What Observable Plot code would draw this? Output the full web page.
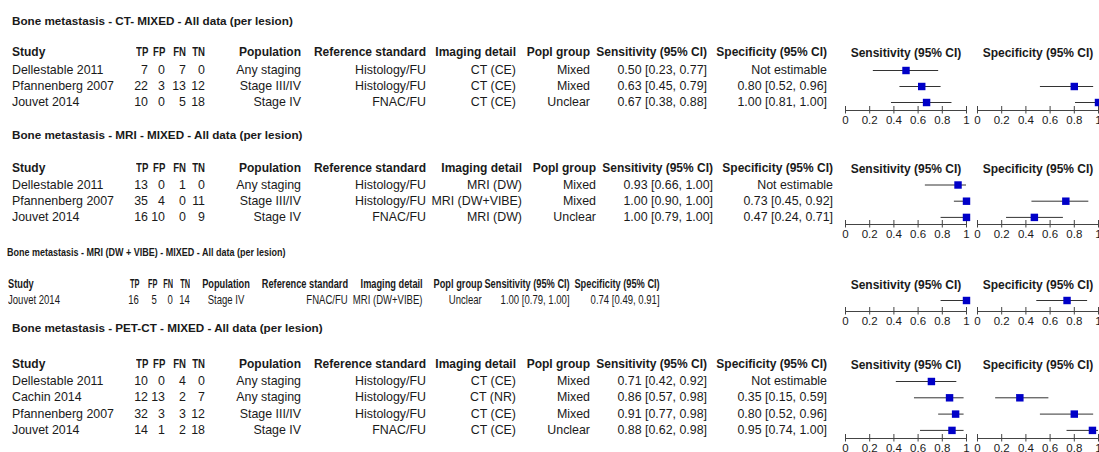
<!DOCTYPE html>
<html><head><meta charset="utf-8">
<script src="https://cdn.jsdelivr.net/npm/d3@7"></script>
<script src="https://cdn.jsdelivr.net/npm/@observablehq/plot@0.6"></script>
<style>
html,body{margin:0;padding:0;background:#fff;}
#page{position:relative;width:1099px;height:452px;overflow:hidden;font-family:"Liberation Sans",Arial,sans-serif;color:#1a1a1a;}
.t{position:absolute;white-space:nowrap;line-height:14px;height:14px;}
</style></head><body><div id="page"></div>
<script>
// ---------- data ----------
const sectionTitles = [
  "Bone metastasis - CT- MIXED - All data (per lesion)",
  "Bone metastasis - MRI - MIXED - All data (per lesion)",
  "Bone metastasis - MRI (DW + VIBE) - MIXED - All data (per lesion)",
  "Bone metastasis - PET-CT - MIXED - All data (per lesion)"
];
const sectionOf = [0,0,0,1,1,1,2,3,3,3,3];
const studies = ["Dellestable 2011","Pfannenberg 2007","Jouvet 2014","Dellestable 2011","Pfannenberg 2007","Jouvet 2014","Jouvet 2014","Dellestable 2011","Cachin 2014","Pfannenberg 2007","Jouvet 2014"];
const TP = [7,22,10,13,35,16,16,10,12,32,14];
const FP = [0,3,0,0,4,10,5,0,13,3,1];
const FN = [7,13,5,1,0,0,0,4,2,3,2];
const TN = [0,12,18,0,11,9,14,0,7,12,18];
const population = ["Any staging","Stage III/IV","Stage IV","Any staging","Stage III/IV","Stage IV","Stage IV","Any staging","Any staging","Stage III/IV","Stage IV"];
const refStandard = ["Histology/FU","Histology/FU","FNAC/FU","Histology/FU","Histology/FU","FNAC/FU","FNAC/FU","Histology/FU","Histology/FU","Histology/FU","FNAC/FU"];
const imagingDetail = ["CT (CE)","CT (CE)","CT (CE)","MRI (DW)","MRI (DW+VIBE)","MRI (DW)","MRI (DW+VIBE)","CT (CE)","CT (NR)","CT (CE)","CT (CE)"];
const poplGroup = ["Mixed","Mixed","Unclear","Mixed","Mixed","Unclear","Unclear","Mixed","Mixed","Mixed","Unclear"];
const sens   = [0.50,0.63,0.67,0.93,1.00,1.00,1.00,0.71,0.86,0.91,0.88];
const sensLo = [0.23,0.45,0.38,0.66,0.90,0.79,0.79,0.42,0.57,0.77,0.62];
const sensHi = [0.77,0.79,0.88,1.00,1.00,1.00,1.00,0.92,0.98,0.98,0.98];
const spec   = [null,0.80,1.00,null,0.73,0.47,0.74,null,0.35,0.80,0.95];
const specLo = [null,0.52,0.81,null,0.45,0.24,0.49,null,0.15,0.52,0.74];
const specHi = [null,0.96,1.00,null,0.92,0.71,0.91,null,0.59,0.96,1.00];
const columnHeaders = ["Study","TP","FP","FN","TN","Population","Reference standard","Imaging detail","Popl group","Sensitivity (95% CI)","Specificity (95% CI)"];
const forestHeaders = ["Sensitivity (95% CI)","Specificity (95% CI)"];
const axisTicks = [0,0.2,0.4,0.6,0.8,1];

// ---------- layout (styles only) ----------
const REG = 12.4, BOLD = 12, TITLE = 11.7;
const colsA = [[12,"left"],[148,"right"],[165,"right"],[186,"right"],[205,"right"],[301,"right"],[426,"right"],[516,"right"],[590,"right"],[707,"right"],[827,"right"]];
const colsB = [[12,"left"],[148,"right"],[165,"right"],[186,"right"],[205,"right"],[301,"right"],[426,"right"],[522,"right"],[596,"right"],[713,"right"],[833,"right"]];
const colsC = [[8,"left"],[139,"right"],[157,"right"],[173,"right"],[190,"right"],[225.5,"center"],[348,"right"],[423,"right"],[482,"right"],[570,"right"],[660,"right"]];
const layout = [
  {title:21,  header:52,  row0:70,  step:16,   axis:110, cols:colsA, scale:1,    titleX:12},
  {title:135, header:168, row0:184.5, step:16.2, axis:224, cols:colsB, scale:1,  titleX:12},
  {title:252, header:284, row0:300, step:16,   axis:311, cols:colsC, scale:0.77, titleX:7},
  {title:328, header:364, row0:381, step:16.3, axis:438, cols:colsA, scale:1,    titleX:12}
];

const page = document.getElementById("page");
function put(text, x, y, align, bold, scale, size) {
  const d = document.createElement("div");
  d.className = "t";
  d.textContent = text;
  d.style.fontSize = (size || (bold ? BOLD : REG)) + "px";
  d.style.fontWeight = bold ? "bold" : "normal";
  d.style.top = (y - 7) + "px";
  if (align === "left") {
    d.style.left = x + "px"; d.style.transformOrigin = "left center"; d.style.transform = `scaleX(${scale})`;
  } else if (align === "right") {
    d.style.right = (1099 - x) + "px"; d.style.transformOrigin = "right center"; d.style.transform = `scaleX(${scale})`;
  } else {
    d.style.left = x + "px"; d.style.transformOrigin = "center center"; d.style.transform = `translateX(-50%) scaleX(${scale})`;
  }
  page.appendChild(d);
}
const ci = (e, lo, hi) => e == null ? "Not estimable" : `${e.toFixed(2)} [${lo.toFixed(2)}, ${hi.toFixed(2)}]`;

layout.forEach((L, s) => {
  put(sectionTitles[s], L.titleX, L.title, "left", true, L.scale, TITLE);
  columnHeaders.forEach((h, c) => {
    const narrow = (c >= 1 && c <= 4) ? 0.8 : 1;
    put(h, L.cols[c][0], L.header, L.cols[c][1], true, L.scale * narrow);
  });
  const idx = studies.map((_, i) => i).filter(i => sectionOf[i] === s);
  idx.forEach((i, k) => {
    const y = L.row0 + k * L.step;
    const vals = [studies[i], TP[i], FP[i], FN[i], TN[i], population[i], refStandard[i], imagingDetail[i], poplGroup[i],
      ci(sens[i], sensLo[i], sensHi[i]), ci(spec[i], specLo[i], specHi[i])];
    vals.forEach((v, c) => put(String(v), L.cols[c][0], y, L.cols[c][1], false, L.scale));
  });

  // forest plot via Plot
  const rows = [];
  idx.forEach((i, k) => {
    rows.push({measure: forestHeaders[0], k, est: sens[i], lo: sensLo[i], hi: sensHi[i]});
    if (spec[i] != null) rows.push({measure: forestHeaders[1], k, est: spec[i], lo: specLo[i], hi: specHi[i]});
  });
  const svgTop = L.header - 20;
  const marginTop = 28, marginBottom = 24;
  const height = (L.axis - svgTop) + marginBottom;
  const axisK = (L.axis - L.row0) / L.step;
  const chart = Plot.plot({
    width: 5 + 253 + 12, height,
    marginLeft: 5, marginRight: 12, marginTop, marginBottom,
    style: {fontFamily: "Liberation Sans, Arial, sans-serif", color: "#1a1a1a", background: "transparent", overflow: "visible"},
    fx: {domain: forestHeaders, paddingInner: 11/132, paddingOuter: 0, round: false},
    x: {domain: [0, 1]},
    y: {domain: [0, 1], range: [L.row0 - svgTop, L.row0 + L.step - svgTop], axis: null},
    marks: [
      Plot.ruleY([axisK], {stroke: "#444"}),
      Plot.ruleX(axisTicks, {x: d => d, y1: axisK - 4 / L.step, y2: axisK + 3.5 / L.step, stroke: "#444"}),
      Plot.axisX({ticks: axisTicks, tickSize: 0, tickPadding: 5, tickFormat: d => String(d), label: null, fontSize: 11.5}),
      Plot.axisFx({anchor: "top", tickSize: 0, tickPadding: 4, label: null, fontWeight: "bold", fontSize: 12}),
      Plot.ruleY(rows, {fx: "measure", y: "k", x1: "lo", x2: "hi", stroke: "#333"}),
      Plot.dot(rows, {fx: "measure", y: "k", x: "est", symbol: "square", r: 4.2, fill: "#0000c8"})
    ]
  });
  chart.style.position = "absolute";
  chart.style.left = "840px";
  chart.style.top = svgTop + "px";
  page.appendChild(chart);
});
</script></body></html>
